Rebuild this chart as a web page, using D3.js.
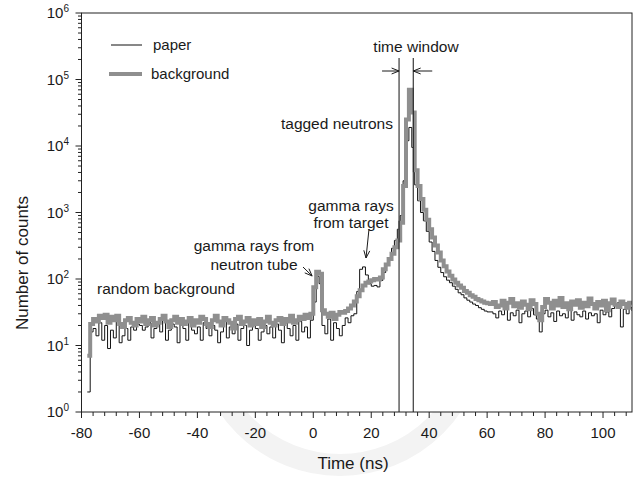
<!DOCTYPE html>
<html><head><meta charset="utf-8">
<script src="https://cdn.jsdelivr.net/npm/d3@7"></script>
<style>
body{margin:0;background:#fff}
svg{display:block}
text{font-family:"Liberation Sans",Arial,Helvetica,sans-serif;fill:#1a1a1a}
</style>
</head><body>
<svg id="chart" width="644" height="481"></svg>
<script>
// ---- data ----
const binStart = -78;   // ns, left edge of first bin
const binWidth = 1;     // ns
// "paper" spectrum, counts per bin, t = -78 ... 110 ns
const paper = [
  2, 16, 18, 14, 22, 12, 20, 9, 17, 13,          // -78..-69
  24, 11, 14, 18, 12, 19, 17, 21, 20, 17,        // -68..-59
  19, 22, 13, 18, 21, 16, 24, 12, 17, 21,        // -58..-49
  19, 11, 22, 18, 12, 23, 17, 15, 19, 12,        // -48..-39
  22, 18, 14, 20, 17, 11, 16, 23, 13, 19,        // -38..-29
  15, 21, 12, 18, 20, 10, 17, 21, 18, 12,        // -28..-19
  16, 20, 15, 19, 13, 21, 17, 11, 22, 18,        // -18..-9
  14, 20, 12, 23, 16, 19, 13, 24, 45, 110,       // -8..1
  85, 20, 15, 25, 12, 22, 18, 14, 20, 26,        // 2..11
  22, 28, 30, 65, 140, 152, 115, 85, 78, 80,     // 12..21
  76, 95, 125, 160, 210, 290, 380, 560, 900, 3000, // 22..31
  12000, 19000, 9500, 2600, 1500, 1000, 750, 520, 360, 260, // 32..41
  190, 150, 125, 108, 96, 88, 78, 70, 62, 58,    // 42..51
  52, 48, 45, 42, 40, 37, 35, 33, 32, 32,        // 52..61
  30, 26, 33, 29, 35, 24, 31, 28, 34, 22,        // 62..71
  30, 33, 27, 36, 29, 25, 16, 30, 34, 27,        // 72..81
  31, 23, 33, 28, 30, 26, 35, 24, 32, 29,        // 82..91
  27, 33, 25, 31, 28, 30, 22, 34, 29, 32,        // 92..101
  27, 36, 40, 44, 19, 35, 30, 37, 33             // 102..110
];
// "background" spectrum
const background = [
  7, 21, 25, 23, 28, 26, 29, 22, 27, 24,
  28, 21, 19, 24, 26, 22, 20, 25, 23, 27,
  21, 24, 26, 20, 22, 25, 28, 23, 19, 24,
  27, 22, 25, 21, 23, 26, 20, 24, 22, 27,
  25, 21, 19, 24, 28, 23, 20, 26, 24, 22,
  18, 25, 27, 21, 23, 26, 20, 24, 21, 25,
  19, 23, 27, 22, 20, 24, 26, 21, 25, 23,
  28, 22, 24, 27, 25, 29, 26, 30, 75, 128,
  120, 34, 30, 27, 31, 25, 29, 32, 31, 33,
  36, 40, 46, 55, 68, 80, 88, 92, 96, 100,
  98, 105, 140, 165, 200, 240, 300, 380, 700, 2500,
  25000, 70000, 32000, 4300, 2500, 1600, 1100, 780, 560, 420,
  320, 250, 190, 155, 130, 112, 98, 88, 80, 74,
  66, 62, 57, 54, 50, 48, 46, 44, 43, 42,
  45, 38, 40, 47, 36, 44, 50, 39, 43, 37,
  46, 41, 35, 48, 42, 30, 24, 38, 50, 44,
  36, 47, 40, 52, 38, 43, 35, 46, 41, 48,
  37, 44, 39, 51, 42, 36, 45, 40, 47, 34,
  43, 49, 41, 38, 46, 42, 37, 44, 45
];
const seriesNames = ["paper", "background"];
const xTickValues = [-80, -60, -40, -20, 0, 20, 40, 60, 80, 100];
const yTickExponents = [0, 1, 2, 3, 4, 5, 6];
const timeWindow = [29.6, 34.5];
const xLabel = "Time (ns)";
const yLabel = "Number of counts";

// ---- layout ----
const svg = d3.select("#chart");
const L = 81.5, R = 632, T = 13, B = 412;
const x = d3.scaleLinear().domain([-80, 110]).range([L, R]);
const y = d3.scaleLog().domain([1, 1e6]).range([B, T]);
const GRAY = "#8f8f8f";

// faint watermark arc below plot
svg.append("circle").attr("cx", 340).attr("cy", 330).attr("r", 135)
  .attr("fill", "none").attr("stroke", "#f3f3f3").attr("stroke-width", 22);
svg.append("rect").attr("x", L).attr("y", T).attr("width", R - L).attr("height", B - T).attr("fill", "#fff");

const toPts = arr => arr.map((v, i) => ({t: binStart + i * binWidth, v}));
const line = d3.line().x(d => x(d.t)).y(d => y(d.v)).curve(d3.curveStepAfter);

svg.append("clipPath").attr("id", "clip").append("rect")
  .attr("x", L).attr("y", T).attr("width", R - L).attr("height", B - T);
const g = svg.append("g").attr("clip-path", "url(#clip)");

g.append("path").datum(toPts(paper)).attr("d", line)
  .attr("fill", "none").attr("stroke", "#111").attr("stroke-width", 1);
g.append("path").datum(toPts(background)).attr("d", line)
  .attr("fill", "none").attr("stroke", GRAY).attr("stroke-width", 4);

// time window lines
timeWindow.forEach(t => {
  svg.append("line").attr("x1", x(t)).attr("x2", x(t)).attr("y1", 58).attr("y2", B)
    .attr("stroke", "#111").attr("stroke-width", 1);
});

// frame
svg.append("rect").attr("x", L).attr("y", T).attr("width", R - L).attr("height", B - T)
  .attr("fill", "none").attr("stroke", "#222").attr("stroke-width", 1);

// x axis
const xMinor = d3.range(-80, 110.01, 4);
const xAxis = svg.append("g");
xMinor.forEach(v => {
  const major = xTickValues.includes(v);
  xAxis.append("line").attr("x1", x(v)).attr("x2", x(v)).attr("y1", B).attr("y2", B + (major ? 6 : 4))
    .attr("stroke", "#222").attr("stroke-width", 1);
});
xTickValues.forEach(v => {
  xAxis.append("text").attr("x", x(v)).attr("y", 438).attr("text-anchor", "middle")
    .attr("font-size", 15).text(v);
});

// y axis
const yAxis = svg.append("g");
yTickExponents.forEach(e => {
  const v = Math.pow(10, e);
  yAxis.append("line").attr("x1", L - 6).attr("x2", L).attr("y1", y(v)).attr("y2", y(v))
    .attr("stroke", "#222");
  if (e < 6) {
    for (let m = 2; m <= 9; m++) {
      const yy = y(m * v);
      yAxis.append("line").attr("x1", L - 3.5).attr("x2", L).attr("y1", yy).attr("y2", yy)
        .attr("stroke", "#222");
    }
  }
  const tx = yAxis.append("text").attr("x", 69).attr("y", y(v) + 5).attr("text-anchor", "end")
    .attr("font-size", 15);
  tx.append("tspan").text("10");
  tx.append("tspan").attr("dy", -6).attr("font-size", 10).text(e);
});

// axis labels
svg.append("text").attr("x", 353).attr("y", 469).attr("text-anchor", "middle")
  .attr("font-size", 17).text(xLabel);
svg.append("text").attr("transform", "translate(28,263) rotate(-90)").attr("text-anchor", "middle")
  .attr("font-size", 17).text(yLabel);

// legend
svg.append("line").attr("x1", 111).attr("x2", 142).attr("y1", 45).attr("y2", 45)
  .attr("stroke", "#111").attr("stroke-width", 1);
svg.append("text").attr("x", 153).attr("y", 50).attr("font-size", 15).text(seriesNames[0]);
svg.append("line").attr("x1", 109).attr("x2", 142).attr("y1", 74).attr("y2", 74)
  .attr("stroke", GRAY).attr("stroke-width", 4);
svg.append("text").attr("x", 151).attr("y", 79).attr("font-size", 15).text(seriesNames[1]);

// arrows
function arrow(x1, y1, x2, y2) {
  const a = Math.atan2(y2 - y1, x2 - x1), s = 8, h = 0.38;
  const p = d3.path();
  p.moveTo(x1, y1); p.lineTo(x2, y2);
  p.moveTo(x2 - s * Math.cos(a - h), y2 - s * Math.sin(a - h));
  p.lineTo(x2, y2);
  p.lineTo(x2 - s * Math.cos(a + h), y2 - s * Math.sin(a + h));
  svg.append("path").attr("d", p.toString()).attr("fill", "none")
    .attr("stroke", "#1a1a1a").attr("stroke-width", 1);
}
arrow(x(timeWindow[0]) - 17, 71, x(timeWindow[0]), 71);
arrow(x(timeWindow[1]) + 19, 71, x(timeWindow[1]), 71);
arrow(303, 267, x(-0.4), y(111));
arrow(369, 229, x(18.2), y(207));

// annotations
const ann = (t, xx, yy, anchor) => svg.append("text").attr("x", xx).attr("y", yy)
  .attr("text-anchor", anchor).attr("font-size", 15.5).text(t);
ann("time window", 416, 52, "middle");
ann("tagged neutrons", 393, 129, "end");
ann("gamma rays", 351, 211, "middle");
ann("from target", 351, 228, "middle");
ann("gamma rays from", 254, 251, "middle");
ann("neutron tube", 254, 270, "middle");
ann("random background", 97, 294, "start");
</script>
</body></html>
